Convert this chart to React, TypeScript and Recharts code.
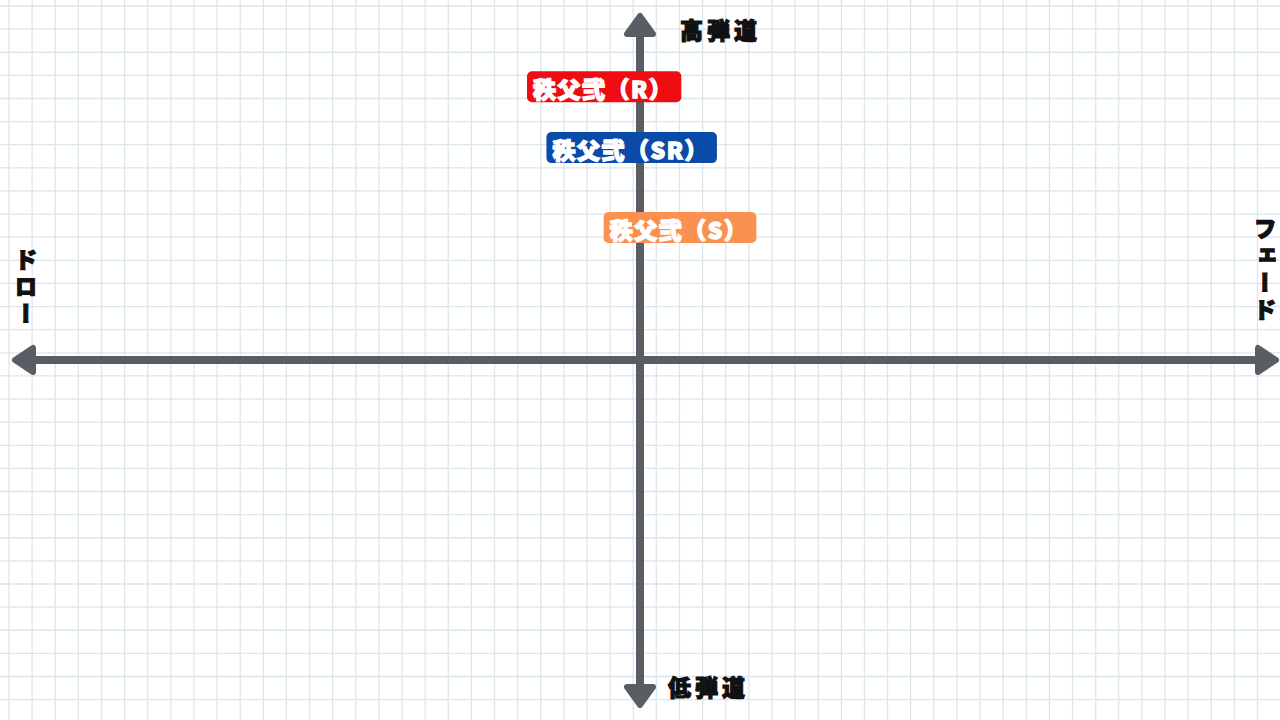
import React from "react";
import {
  ScatterChart,
  Scatter,
  XAxis,
  YAxis,
  CartesianGrid,
  ReferenceLine,
  Cell,
} from "recharts";

// positioning map: x = draw(-) .. fade(+), y = low(-) .. high(+) trajectory
const labels = ["秩父弐（R）", "秩父弐（SR）", "秩父弐（S）"];
const xValues = [-5.6, -1.3, 6.25];
const yValues = [75.9, 59, 36.8];

const xAxisLabels = ["ドロー", "フェード"];
const yAxisLabels = ["高弾道", "低弾道"];

const COLORS = ["#f00d12", "#0a4aa8", "#fa9150"];
const AXIS_COLOR = "#595e64";
const GRID_COLOR = "#dce6ed";
const FONT = "'Noto Sans CJK JP', 'Noto Sans', sans-serif";

const W = 1280;
const H = 720;
const GRID_STEP = 23.12;

const data = labels.map((name, i) => ({ name, x: xValues[i], y: yValues[i] }));

const gridX: number[] = [];
for (let v = 9; v < W; v += GRID_STEP) gridX.push(v);
const gridY: number[] = [];
for (let v = 6; v < H; v += GRID_STEP) gridY.push(v);

// measure label text so the badge fits it
const canvas = typeof document !== "undefined" ? document.createElement("canvas") : null;
const measure = (text: string, size: number, spacing: number) => {
  const ctx = canvas && canvas.getContext("2d");
  if (!ctx) return text.length * size;
  ctx.font = `900 ${size}px ${FONT}`;
  return ctx.measureText(text).width + spacing * text.length;
};

const Badge = (props: any) => {
  const { cx, cy, payload, index } = props;
  const size = 23;
  const spacing = 1.5;
  const tw = measure(payload.name, size, spacing);
  const w = tw + 14;
  const h = 31;
  return (
    <g>
      <rect x={cx - w / 2} y={cy - h / 2} width={w} height={h} rx={5} fill={COLORS[index]} />
      <text
        x={cx - w / 2 + 6}
        y={cy + 1}
        fill="#fff"
        stroke="#fff"
        strokeWidth={1.3}
        fontFamily={FONT}
        fontWeight={900}
        fontSize={size}
        letterSpacing={spacing}
        dominantBaseline="central"
      >
        {payload.name}
      </text>
    </g>
  );
};

const labelStyle = {
  fill: "#111",
  stroke: "#111",
  strokeWidth: 1.1,
  fontFamily: FONT,
  fontWeight: 900,
  fontSize: 23,
};

// horizontal axis with arrowheads on both ends
const HorizontalArrow = (props: any) => {
  const y = props.y1;
  const left = Math.min(props.x1, props.x2) + 12;
  const right = Math.max(props.x1, props.x2) - 1;
  return (
    <g>
      <line x1={left + 10} y1={y} x2={right - 10} y2={y} stroke={AXIS_COLOR} strokeWidth={8} />
      <path
        d={`M${left + 3},${y} L${left + 21},${y - 12} L${left + 21},${y + 12} Z`}
        fill={AXIS_COLOR}
        stroke={AXIS_COLOR}
        strokeWidth={6}
        strokeLinejoin="round"
      />
      <path
        d={`M${right - 3},${y} L${right - 21},${y - 12} L${right - 21},${y + 12} Z`}
        fill={AXIS_COLOR}
        stroke={AXIS_COLOR}
        strokeWidth={6}
        strokeLinejoin="round"
      />
      <text x={26} y={248} style={{ ...labelStyle, writingMode: "vertical-rl", letterSpacing: 4 } as any}>
        {xAxisLabels[0]}
      </text>
      <text x={1265} y={217} style={{ ...labelStyle, writingMode: "vertical-rl", letterSpacing: 4 } as any}>
        {xAxisLabels[1]}
      </text>
    </g>
  );
};

// vertical axis with arrowheads on both ends
const VerticalArrow = (props: any) => {
  const x = props.x1;
  const top = Math.min(props.y1, props.y2) + 13;
  const bottom = Math.max(props.y1, props.y2) - 12;
  return (
    <g>
      <line x1={x} y1={top + 10} x2={x} y2={bottom - 10} stroke={AXIS_COLOR} strokeWidth={8} />
      <path
        d={`M${x},${top + 3} L${x - 13},${top + 21} L${x + 13},${top + 21} Z`}
        fill={AXIS_COLOR}
        stroke={AXIS_COLOR}
        strokeWidth={6}
        strokeLinejoin="round"
      />
      <path
        d={`M${x},${bottom - 3} L${x - 13},${bottom - 21} L${x + 13},${bottom - 21} Z`}
        fill={AXIS_COLOR}
        stroke={AXIS_COLOR}
        strokeWidth={6}
        strokeLinejoin="round"
      />
      <text x={x + 40} y={29} dominantBaseline="central" letterSpacing={4} style={labelStyle}>
        {yAxisLabels[0]}
      </text>
      <text x={x + 28} y={686} dominantBaseline="central" letterSpacing={4} style={labelStyle}>
        {yAxisLabels[1]}
      </text>
    </g>
  );
};

const App = () => {
  return (
    <div style={{ position: "absolute", left: 0, top: 0, width: W, height: H, background: "#fff" }}>
      <ScatterChart width={W} height={H} margin={{ top: 0, right: 0, bottom: 0, left: 0 }}>
        <CartesianGrid
          stroke={GRID_COLOR}
          strokeWidth={1.3}
          verticalCoordinatesGenerator={() => gridX}
          horizontalCoordinatesGenerator={() => gridY}
        />
        <XAxis type="number" dataKey="x" domain={[-100, 100]} hide />
        <YAxis type="number" dataKey="y" domain={[-100, 100]} hide />
        <ReferenceLine y={0} shape={HorizontalArrow} />
        <ReferenceLine x={0} shape={VerticalArrow} />
        <Scatter data={data} shape={Badge} isAnimationActive={false}>
          {data.map((d, i) => (
            <Cell key={d.name} fill={COLORS[i]} />
          ))}
        </Scatter>
      </ScatterChart>
    </div>
  );
};

export default App;
